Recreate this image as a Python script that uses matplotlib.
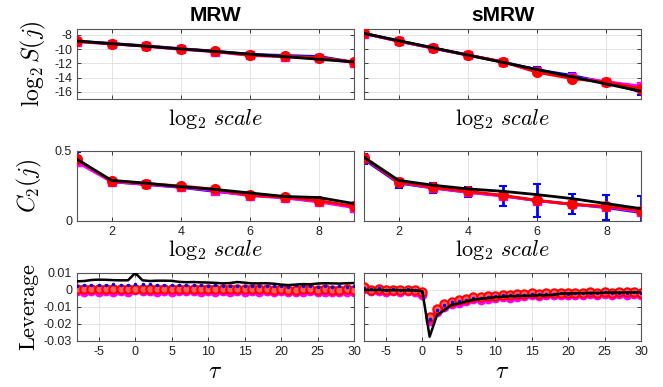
import numpy as np
import matplotlib
matplotlib.use("Agg")
import matplotlib.pyplot as plt

plt.rcParams["font.family"] = ["Liberation Sans", "DejaVu Sans"]
plt.rcParams["mathtext.fontset"] = "cm"

# scales j = 1..9
scales = [1, 2, 3, 4, 5, 6, 7, 8, 9]

# log2 S(j)
mrw_S_red = [-8.93, -9.26, -9.58, -10.0, -10.33, -10.88, -11.02, -11.2, -11.81]
mrw_S_mag = [-8.97, -9.3, -9.6, -10.05, -10.38, -10.9, -11.06, -11.25, -11.9]
mrw_S_blue = [-8.9, -9.22, -9.55, -9.95, -10.3, -10.75, -10.9, -11.05, -11.85]
mrw_S_blue_err = [0.08, 0.08, 0.1, 0.1, 0.1, 0.12, 0.12, 0.15, 0.2]
mrw_S_black = [-8.88, -9.25, -9.61, -9.98, -10.34, -10.71, -11.07, -11.44, -11.8]

smrw_S_red = [-7.81, -8.88, -9.86, -10.84, -11.77, -13.26, -14.14, -14.65, -15.53]
smrw_S_mag = [-7.85, -8.9, -9.9, -10.85, -11.8, -13.1, -13.95, -14.55, -15.2]
smrw_S_blue = [-7.8, -8.9, -9.88, -10.86, -11.8, -12.9, -13.7, -14.7, -16.0]
smrw_S_blue_err = [0.1, 0.1, 0.15, 0.15, 0.2, 0.35, 0.35, 0.4, 0.5]
smrw_S_black = [-7.81, -8.82, -9.83, -10.84, -11.86, -12.87, -13.88, -14.89, -15.9]

# C2(j)
mrw_C_red = [0.44, 0.286, 0.267, 0.25, 0.226, 0.183, 0.171, 0.145, 0.105]
mrw_C_mag = [0.42, 0.28, 0.262, 0.242, 0.215, 0.18, 0.165, 0.135, 0.095]
mrw_C_blue = [0.44, 0.28, 0.26, 0.24, 0.21, 0.185, 0.165, 0.14, 0.1]
mrw_C_blue_err = [0.05, 0.01, 0.01, 0.01, 0.012, 0.012, 0.012, 0.015, 0.015]
mrw_C_black = [0.44, 0.29, 0.27, 0.245, 0.225, 0.2, 0.175, 0.167, 0.124]

smrw_C_red = [0.452, 0.279, 0.24, 0.212, 0.183, 0.148, 0.119, 0.105, 0.074]
smrw_C_mag = [0.45, 0.275, 0.235, 0.205, 0.178, 0.145, 0.118, 0.1, 0.066]
smrw_C_blue = [0.44, 0.27, 0.235, 0.205, 0.18, 0.145, 0.12, 0.095, 0.06]
smrw_C_blue_err = [0.035, 0.032, 0.038, 0.034, 0.07, 0.117, 0.072, 0.09, 0.12]
smrw_C_black = [0.455, 0.29, 0.255, 0.229, 0.212, 0.188, 0.16, 0.124, 0.088]

# leverage, tau = -8..30
tau = list(range(-8, 31))

mrw_L_red = [0.0008, 0.0006, 0.0007, 0.0005, 0.0006, 0.0004, 0.0006, 0.0005, 0.0007,
             0.0008, 0.0006, 0.0005, 0.0006, 0.0004, 0.0005, 0.0006, 0.0004, 0.0005,
             0.0003, 0.0004, 0.0005, 0.0004, 0.0003, 0.0005, 0.0004, 0.0003, 0.0004,
             0.0002, 0.0003, 0.0001, 0.0002, 0.0003, 0.0004, 0.0002, 0.0003, 0.0002,
             0.0001, 0.0003, 0.0002]
mrw_L_mag = [-0.0006, -0.0010, -0.0004, -0.0012, -0.0005, -0.0011, -0.0004, -0.0010, -0.0003,
             -0.0009, -0.0006, -0.0011, -0.0005, -0.0012, -0.0006, -0.0009, -0.0007, -0.0012,
             -0.0006, -0.0010, -0.0008, -0.0011, -0.0007, -0.0013, -0.0008, -0.0010, -0.0009,
             -0.0014, -0.0008, -0.0012, -0.0011, -0.0014, -0.0009, -0.0013, -0.0010, -0.0012,
             -0.0011, -0.0013, -0.0010]
mrw_L_blue = [0.0025, 0.0028, 0.0030, 0.0027, 0.0031, 0.0035, 0.0029, 0.0030, 0.0036,
              0.0032, 0.0034, 0.0029, 0.0030, 0.0031, 0.0028, 0.0027, 0.0026, 0.0028,
              0.0025, 0.0026, 0.0024, 0.0023, 0.0025, 0.0022, 0.0024, 0.0021, 0.0023,
              0.0020, 0.0022, 0.0019, 0.0030, 0.0021, 0.0020, 0.0019, 0.0021, 0.0018,
              0.0020, 0.0019, 0.0020]
mrw_L_black = [0.0050, 0.0052, 0.0058, 0.0060, 0.0059, 0.0057, 0.0056, 0.0056, 0.0099,
               0.0056, 0.0052, 0.0054, 0.0054, 0.0053, 0.0047, 0.0045, 0.0046, 0.0044,
               0.0043, 0.0041, 0.0038, 0.0040, 0.0046, 0.0042, 0.0038, 0.0038, 0.0039,
               0.0036, 0.0031, 0.0028, 0.0031, 0.0034, 0.0033, 0.0037, 0.0039, 0.0038,
               0.0037, 0.0039, 0.0040]

smrw_L_red = [0.0018, 0.0002, 0.0003, 0.0001, 0.0002, 0.0000, 0.0001, 0.0000, -0.0015,
              -0.0160, -0.0115, -0.0085, -0.0070, -0.0062, -0.0055, -0.0040, -0.0042, -0.0038,
              -0.0036, -0.0028, -0.0030, -0.0027, -0.0025, -0.0018, -0.0022, -0.0020, -0.0019,
              -0.0016, -0.0020, -0.0017, -0.0018, -0.0014, -0.0017, -0.0013, -0.0016, -0.0014,
              -0.0015, -0.0013, -0.0017]
smrw_L_mag = [0.0008, -0.0008, -0.0004, -0.0010, -0.0005, -0.0011, -0.0006, -0.0010, -0.0030,
              -0.0180, -0.0130, -0.0100, -0.0085, -0.0075, -0.0068, -0.0055, -0.0058, -0.0052,
              -0.0050, -0.0042, -0.0045, -0.0040, -0.0038, -0.0032, -0.0036, -0.0033, -0.0032,
              -0.0029, -0.0033, -0.0030, -0.0031, -0.0027, -0.0030, -0.0026, -0.0029, -0.0027,
              -0.0028, -0.0026, -0.0030]
smrw_L_blue = [0.0010, 0.0005, 0.0010, 0.0002, 0.0006, 0.0001, 0.0004, -0.0001, -0.0010,
               -0.0170, -0.0120, -0.0090, -0.0072, -0.0065, -0.0058, -0.0045, -0.0046, -0.0040,
               -0.0038, -0.0032, -0.0033, -0.0030, -0.0028, -0.0022, -0.0025, -0.0023, -0.0022,
               -0.0019, -0.0022, -0.0020, -0.0021, -0.0017, -0.0019, -0.0015, -0.0018, -0.0016,
               -0.0017, -0.0015, -0.0018]
smrw_L_black = [0.0000, -0.0001, -0.0001, -0.0002, -0.0002, -0.0002, -0.0003, -0.0003, -0.0008,
                -0.0275, -0.0150, -0.0120, -0.0088, -0.0080, -0.0068, -0.0058, -0.0052, -0.0048,
                -0.0043, -0.0040, -0.0038, -0.0036, -0.0035, -0.0034, -0.0032, -0.0031, -0.0029,
                -0.0022, -0.0021, -0.0020, -0.0019, -0.0018, -0.0018, -0.0017, -0.0016, -0.0016,
                -0.0015, -0.0015, -0.0014]


def style_axes(ax):
    ax.grid(True, color="#e3e3e3", linewidth=0.7)
    ax.set_axisbelow(True)
    for s in ax.spines.values():
        s.set_color("#555555")
        s.set_linewidth(0.8)
    ax.tick_params(direction="in", top=True, right=True, length=3, width=0.6,
                   colors="#222222", labelsize=9)


def scale_panel(ax, red, mag, blue, err, black):
    ax.errorbar(scales, blue, yerr=err, color="blue", lw=2, capsize=3, capthick=1.5,
                marker="+", ms=5, zorder=2)
    ax.plot(scales, mag, color="magenta", lw=2, marker="s", ms=6, zorder=3)
    ax.plot(scales, red, color="red", lw=2, marker="o", ms=7, zorder=4)
    ax.plot(scales, black, color="black", lw=2, zorder=5)
    ax.set_xlim(1, 9)
    ax.set_xticks([2, 4, 6, 8])
    style_axes(ax)


def lev_panel(ax, red, mag, blue, black):
    ax.plot(tau, mag, ls="none", marker="o", ms=6, color="magenta", mec="magenta", zorder=2)
    ax.plot(tau, red, ls="none", marker="o", ms=6, mfc="#ff6060", mec="red", mew=1.5, zorder=3)
    ax.plot(tau, blue, ls="none", marker=".", ms=3, color="blue", zorder=4)
    ax.plot(tau, black, color="black", lw=1.8, zorder=5)
    ax.set_xlim(-8, 30)
    ax.set_ylim(-0.03, 0.01)
    ax.set_xticks([-5, 0, 5, 10, 15, 20, 25, 30])
    ax.set_yticks([-0.03, -0.02, -0.01, 0, 0.01])
    ax.set_yticklabels(["-0.03", "-0.02", "-0.01", "0", "0.01"])
    ax.set_xticklabels(["-5", "0", "5", "10", "15", "20", "25", "30"])
    style_axes(ax)


fig = plt.figure(figsize=(6.63, 3.87), dpi=100)
lx, rx, w = 0.116, 0.549, 0.418
rows = [(0.744, 0.181), (0.429, 0.181), (0.119, 0.176)]

ax1 = fig.add_axes([lx, rows[0][0], w, rows[0][1]])
ax2 = fig.add_axes([rx, rows[0][0], w, rows[0][1]])
ax3 = fig.add_axes([lx, rows[1][0], w, rows[1][1]])
ax4 = fig.add_axes([rx, rows[1][0], w, rows[1][1]])
ax5 = fig.add_axes([lx, rows[2][0], w, rows[2][1]])
ax6 = fig.add_axes([rx, rows[2][0], w, rows[2][1]])

scale_panel(ax1, mrw_S_red, mrw_S_mag, mrw_S_blue, mrw_S_blue_err, mrw_S_black)
scale_panel(ax2, smrw_S_red, smrw_S_mag, smrw_S_blue, smrw_S_blue_err, smrw_S_black)
for ax in (ax1, ax2):
    ax.set_ylim(-17, -7.2)
    ax.set_yticks([-16, -14, -12, -10, -8])
    ax.set_yticklabels(["-16", "-14", "-12", "-10", "-8"])
    ax.set_xticklabels([])
    ax.set_xlabel(r"$\log_2\, scale$", fontsize=16, labelpad=2)

scale_panel(ax3, mrw_C_red, mrw_C_mag, mrw_C_blue, mrw_C_blue_err, mrw_C_black)
scale_panel(ax4, smrw_C_red, smrw_C_mag, smrw_C_blue, smrw_C_blue_err, smrw_C_black)
for ax in (ax3, ax4):
    ax.set_ylim(0, 0.5)
    ax.set_yticks([0, 0.5])
    ax.set_yticklabels(["0", "0.5"])
    ax.set_xlabel(r"$\log_2\, scale$", fontsize=16, labelpad=0)

lev_panel(ax5, mrw_L_red, mrw_L_mag, mrw_L_blue, mrw_L_black)
lev_panel(ax6, smrw_L_red, smrw_L_mag, smrw_L_blue, smrw_L_black)
for ax in (ax5, ax6):
    ax.set_xlabel(r"$\tau$", fontsize=17, labelpad=2)

for ax in (ax2, ax4, ax6):
    ax.set_yticklabels([])

ax1.set_ylabel(r"$\log_2 S(j)$", fontsize=17, labelpad=4)
ax3.set_ylabel(r"$C_2(j)$", fontsize=17, labelpad=8)
ax5.set_ylabel(r"$\mathrm{Leverage}$", fontsize=16, labelpad=2)

ax1.set_title("MRW", fontsize=15, fontweight="bold", pad=6)
ax2.set_title("sMRW", fontsize=15, fontweight="bold", pad=6)

fig.savefig("out.png", dpi=100)
